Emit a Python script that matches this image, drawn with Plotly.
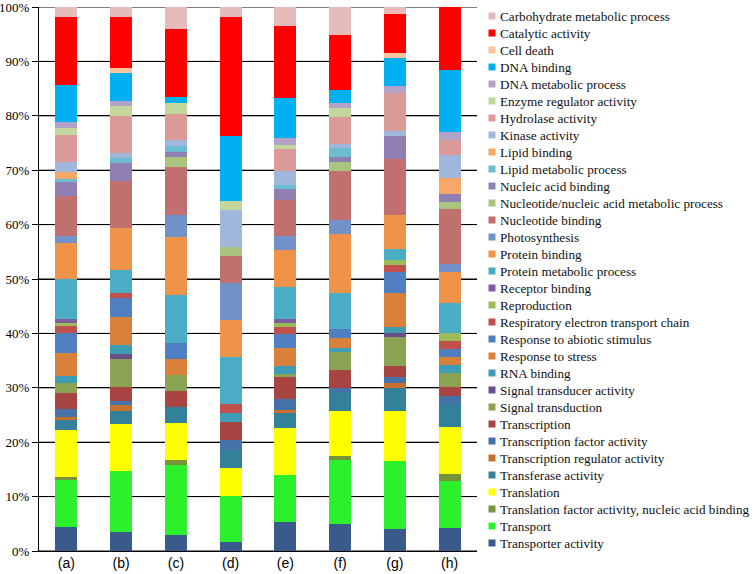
import plotly.graph_objects as go

samples = ["(a)", "(b)", "(c)", "(d)", "(e)", "(f)", "(g)", "(h)"]

# series, listed bottom of stack -> top of stack
series = [
    "Transporter activity", "Transport", "Translation factor activity, nucleic acid binding",
    "Translation", "Transferase activity", "Transcription regulator activity",
    "Transcription factor activity", "Transcription", "Signal transduction",
    "Signal transducer activity", "RNA binding", "Response to stress",
    "Response to abiotic stimulus", "Respiratory electron transport chain", "Reproduction",
    "Receptor binding", "Protein metabolic process", "Protein binding", "Photosynthesis",
    "Nucleotide binding", "Nucleotide/nucleic acid metabolic process", "Nucleic acid binding",
    "Lipid metabolic process", "Lipid binding", "Kinase activity", "Hydrolase activity",
    "Enzyme regulator activity", "DNA metabolic process", "DNA binding", "Cell death",
    "Catalytic activity", "Carbohydrate metabolic process",
]

colors = [
    "#3A5A8C", "#2CF02C", "#77933C", "#FFFF00", "#33809A", "#C8702E",
    "#4672AA", "#A84442", "#8BA253", "#6B4E8A", "#3E9CB4", "#D9803A",
    "#4F7FC0", "#C0504D", "#9BBB59", "#7B5DA0", "#4BACC6", "#F0934A", "#7092C8",
    "#C0706E", "#A9C47F", "#9080B2", "#6CBCD2", "#F8A866", "#A0B6DA", "#D99A98",
    "#C3D69B", "#B3A2C7", "#00B0F0", "#FBC4A0", "#FF0000", "#E6BCBB",
]

# percentage of each series (same order as `series`) per sample
values_a = [4.4, 8.6, 0.6, 8.6, 1.85, 0.6, 1.4, 3.0, 1.8, 0, 1.35, 4.15, 3.7, 1.35, 0.6, 0.6,
            7.4, 6.7, 1.15, 7.45, 0, 2.5, 0.55, 1.35, 1.8, 4.95, 1.25, 1.2, 6.75, 0, 12.45, 1.9]
values_b = [3.5, 11.2, 0, 8.6, 2.5, 0.95, 0.85, 2.6, 5.15, 0.85, 1.65, 5.25, 3.45, 0.8, 0, 0,
            4.3, 7.75, 0, 8.6, 0, 3.4, 0.9, 0, 0.8, 6.9, 1.8, 0.95, 5.15, 0.8, 9.5, 1.8]
values_c = [2.9, 12.9, 0.9, 6.9, 2.9, 0, 0, 2.9, 2.9, 0, 0, 3.0, 3.0, 0, 0, 0,
            8.75, 10.65, 4.0, 8.8, 2.0, 0.9, 1.0, 0, 1.1, 4.9, 1.9, 0, 1.1, 0, 12.6, 4.0]
values_d = [1.7, 8.5, 0, 5.1, 3.35, 0, 1.75, 3.3, 0, 0, 1.7, 0, 0, 1.7, 0, 0,
            8.5, 6.85, 6.75, 5.0, 1.7, 0, 0, 0, 6.7, 0, 1.7, 0, 12.0, 0, 21.9, 1.8]
values_e = [5.3, 8.6, 0, 8.7, 2.7, 0.6, 2.0, 4.0, 0.7, 0, 1.4, 3.4, 2.5, 1.3, 0.8, 0.6,
            6.0, 6.7, 2.6, 6.7, 0, 2.0, 0.6, 0, 2.6, 4.1, 0.7, 1.35, 7.35, 0, 13.3, 3.4]
values_f = [5.0, 11.7, 0.8, 8.3, 3.5, 0, 0.6, 3.3, 3.4, 0, 0.8, 1.7, 1.7, 0, 0, 0,
            6.7, 10.7, 2.6, 9.0, 1.7, 1.0, 1.5, 0, 0.9, 4.9, 1.7, 0.9, 2.4, 0, 10.1, 5.1]
values_g = [4.1, 12.4, 0, 9.2, 4.2, 0.9, 1.1, 2.1, 5.3, 0.8, 1.0, 6.3, 3.95, 1.25, 0.9, 0,
            2.1, 6.1, 0, 10.3, 0, 4.3, 0, 0, 0.9, 7.0, 0, 1.3, 5.05, 1.05, 7.2, 1.2]
values_h = [4.3, 8.5, 1.4, 8.6, 4.2, 0, 1.5, 1.6, 2.7, 0, 1.4, 1.5, 1.5, 1.4, 1.4, 0,
            5.6, 5.7, 1.5, 10.0, 1.4, 1.4, 0, 2.9, 4.3, 2.8, 0, 1.5, 11.4, 0, 11.5, 0]

tick_vals = [0, 10, 20, 30, 40, 50, 60, 70, 80, 90, 100]
tick_text = ["0%", "10%", "20%", "30%", "40%", "50%", "60%", "70%", "80%", "90%", "100%"]

per_sample = [values_a, values_b, values_c, values_d, values_e, values_f, values_g, values_h]

W, H = 756, 574
ML, MR, MT, MB = 39, 279, 7, 23
PW = W - ML - MR
PH = H - MT - MB

fig = go.Figure()
for i, name in enumerate(series):
    fig.add_trace(go.Bar(
        x=samples,
        y=[vals[i] for vals in per_sample],
        name=name,
        marker=dict(color=colors[i], line=dict(width=0)),
        showlegend=False,
    ))

shapes = []
# horizontal gridlines at the tick values (behind the bars)
for tv in tick_vals:
    shapes.append(dict(type="line", xref="paper", yref="y", x0=0, x1=1, y0=tv, y1=tv,
                       line=dict(color="black", width=1), layer="below"))

# custom legend (top entry = top of stack)
annotations = []
n = len(series)
for k in range(n):
    idx = n - 1 - k
    yc = 16 + 17 * k
    yp = (H - MB - yc) / PH
    xs = (492 - ML) / PW
    half_w = 3.5 / PW
    half_h = 3.5 / PH
    shapes.append(dict(type="rect", xref="paper", yref="paper",
                       x0=xs - half_w, x1=xs + half_w, y0=yp - half_h, y1=yp + half_h,
                       fillcolor=colors[idx], line=dict(width=0)))
    annotations.append(dict(xref="paper", yref="paper", x=(498 - ML) / PW, y=yp,
                            xanchor="left", yanchor="middle", showarrow=False,
                            text=series[idx],
                            font=dict(family="Liberation Serif", size=13.2, color="#111111")))

fig.update_layout(
    template="none",
    width=W, height=H,
    margin=dict(l=ML, r=MR, t=MT, b=MB, autoexpand=False),
    barmode="stack",
    bargap=0.6,
    plot_bgcolor="white",
    paper_bgcolor="white",
    showlegend=False,
    annotations=annotations,
    shapes=shapes,
    xaxis=dict(showline=True, linecolor="black", linewidth=1, ticks="",
               automargin=False, ticklabelstandoff=-1,
               tickfont=dict(family="Liberation Sans", size=14, color="black"),
               showgrid=False, zeroline=False),
    yaxis=dict(range=[0, 100], tickvals=tick_vals, ticktext=tick_text,
               automargin=False, ticklabeloverflow="allow",
               showgrid=True, gridcolor="black", gridwidth=1,
               showline=True, linecolor="black", linewidth=1,
               ticks="outside", ticklen=6, tickcolor="black", tickwidth=1, zeroline=False,
               tickfont=dict(family="Liberation Serif", size=13, color="black")),
)

fig.write_html("out.html", config={"displayModeBar": False},
               post_script="document.body.style.margin='0';")
